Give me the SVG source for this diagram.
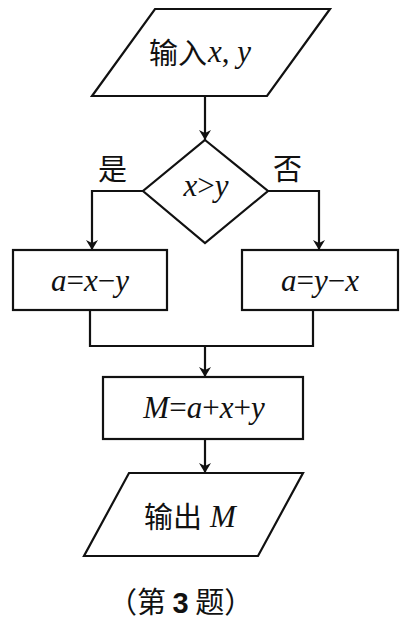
<svg xmlns="http://www.w3.org/2000/svg" width="409" height="620" viewBox="0 0 409 620">
<defs>
<style>
.s{fill:#fff;stroke:#111;stroke-width:2.2}
.c{fill:none;stroke:#111;stroke-width:2.2}
.cj{font-family:"Noto Sans CJK SC","Noto Sans CJK JP",sans-serif;font-size:29px;fill:#111}
.m{font-family:"Liberation Serif","Times New Roman",serif;font-size:31px;font-style:italic;fill:#111}
.n{font-style:normal}
</style>
<marker id="ar" viewBox="0 0 10 16" refX="10" refY="8" markerWidth="10" markerHeight="16" markerUnits="userSpaceOnUse" orient="auto">
<path d="M0,2 L10,8 L0,14 L3,8 Z" fill="#111"/>
</marker>
</defs>
<rect width="409" height="620" fill="#fff"/>
<g id="connectors">
<path class="c" d="M205,96 V140" marker-end="url(#ar)"/>
<path class="c" d="M143,191 H92 V250" marker-end="url(#ar)"/>
<path class="c" d="M268,191 H319 V250" marker-end="url(#ar)"/>
<path class="c" d="M90,310 V346 H313 V310"/>
<path class="c" d="M205,346 V377" marker-end="url(#ar)"/>
<path class="c" d="M205,439 V473" marker-end="url(#ar)"/>
</g>
<g id="input">
<polygon class="s" points="155,9 330,9 267,96 92,96"/>
<text x="149" y="64" class="cj">输入</text>
<text x="208" y="62" class="m">x<tspan class="n">,</tspan>  y</text>
</g>
<g id="decision">
<polygon class="s" points="205,140 268,191 205,243 143,191"/>
<text x="206" y="196" class="m" text-anchor="middle">x<tspan class="n">&gt;</tspan>y</text>
</g>
<g id="yes-label"><text x="98" y="180" class="cj">是</text></g>
<g id="no-label"><text x="273" y="180" class="cj">否</text></g>
<g id="left-box">
<rect class="s" x="13" y="250" width="154" height="60"/>
<text x="90" y="291" class="m" text-anchor="middle">a<tspan class="n">=</tspan>x<tspan class="n">−</tspan>y</text>
</g>
<g id="right-box">
<rect class="s" x="242" y="250" width="156" height="60"/>
<text x="320" y="291" class="m" text-anchor="middle">a<tspan class="n">=</tspan>y<tspan class="n">−</tspan>x</text>
</g>
<g id="sum-box">
<rect class="s" x="103" y="377" width="200" height="62"/>
<text x="204" y="418" class="m" text-anchor="middle">M<tspan class="n">=</tspan>a<tspan class="n">+</tspan>x<tspan class="n">+</tspan>y</text>
</g>
<g id="output">
<polygon class="s" points="129,473 303,473 258,556 84,556"/>
<text x="144" y="528" class="cj">输出</text>
<text x="210" y="527" class="m">M</text>
</g>
<g id="caption">
<text x="108" y="613" class="cj" font-size="27">（第 <tspan font-family="Liberation Sans,Arial,sans-serif" font-weight="bold">3</tspan> 题）</text>
</g>
</svg>
